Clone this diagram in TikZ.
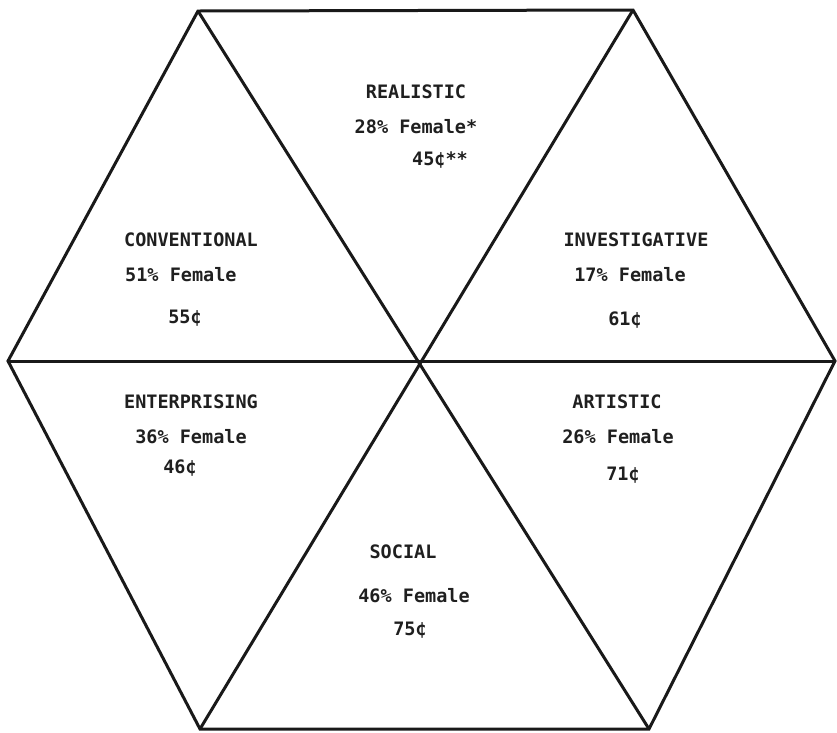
\documentclass[tikz,border=0pt]{standalone}
\usepackage{fontspec}
\setmonofont{DejaVu Sans Mono}
\begin{document}
\begin{tikzpicture}[x=1pt,y=-1pt,
  edge/.style={line width=3pt, line join=miter, black!90},
  lbl/.style={font=\fontsize{18.5}{20}\selectfont\ttfamily\bfseries, text=black!88, inner sep=0pt}]
\useasboundingbox (0,0) rectangle (837,732);
\coordinate (TL) at (198,11);
\coordinate (TR) at (633,10);
\coordinate (R) at (835,361);
\coordinate (BR) at (649,729);
\coordinate (BL) at (200,729);
\coordinate (L) at (8,361);
\coordinate (C) at (418,361);
\draw[edge] (TL) -- (TR) -- (R) -- (BR) -- (BL) -- (L) -- cycle;
\draw[edge] (L) -- (R);
\draw[edge] (TL) -- (BR);
\draw[edge] (TR) -- (BL);
% Realistic
\node[lbl] (rea) at (416,92) {REALISTIC};
\node[lbl] (rea2) at (416,127) {28\% Female*};
\node[lbl] (rea3) at (440,160) {45¢**};
% Conventional
\node[lbl] (con) at (191,240) {CONVENTIONAL};
\node[lbl, anchor=west] (con2) at (125,275) {51\% Female};
\node[lbl] (con3) at (185,318) {55¢};
% Investigative
\node[lbl] (inv) at (636,240) {INVESTIGATIVE};
\node[lbl] (inv2) at (630,275) {17\% Female};
\node[lbl] (inv3) at (625,320) {61¢};
% Enterprising
\node[lbl] (ent) at (191,402) {ENTERPRISING};
\node[lbl] (ent2) at (191,437) {36\% Female};
\node[lbl] (ent3) at (180,468) {46¢};
% Artistic
\node[lbl] (art) at (617,402) {ARTISTIC};
\node[lbl] (art2) at (618,437) {26\% Female};
\node[lbl] (art3) at (623,475) {71¢};
% Social
\node[lbl] (soc) at (403,552) {SOCIAL};
\node[lbl] (soc2) at (414,596) {46\% Female};
\node[lbl] (soc3) at (410,630) {75¢};
\end{tikzpicture}
\end{document}
